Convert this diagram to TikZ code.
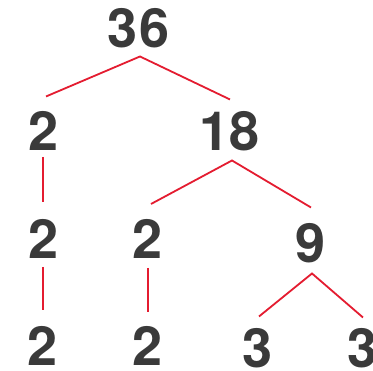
\documentclass[tikz,border=0pt]{standalone}
\usepackage{fontspec}
\setmainfont{TeX Gyre Heros}
\usetikzlibrary{calc}
\definecolor{numgray}{RGB}{58,58,58}
\definecolor{linered}{RGB}{228,28,48}
\begin{document}
\begin{tikzpicture}[x=1pt,y=-1pt,
  num/.style={anchor=base,inner sep=0pt,outer sep=0pt,text=numgray,
    font=\fontsize{54}{60}\selectfont\bfseries},
  edge/.style={draw=linered,line width=1.8pt}]
\useasboundingbox[fill=white] (0,0) rectangle (373,371);
\node[num] (n36) at (138.5,48) {3\kern2pt 6};
\node[num] (a2) at (44,151) {2};
\node[num] (n18) at (230,151) {18};
\node[num] (b2) at (44,259) {2};
\node[num] (m2) at (148,259) {2};
\node[num] (n9) at (311,263) {9};
\node[num] (c2) at (43,366) {2};
\node[num] (d2) at (148,366) {2};
\node[num] (e3) at (258,368) {3};
\node[num] (f3) at (363,368) {3};
\draw[edge] ($(n36.south)+(-92.5,48)$) -- ($(n36.south)+(1.5,8)$) -- ($(n18.south)+(0,-52)$);
\draw[edge] ($(a2.south)+(-1,6)$) -- ($(b2.south)+(-1,-57)$);
\draw[edge] ($(m2.south)+(3,-55)$) -- ($(n18.south)+(2,9)$) -- ($(n9.south)+(0,-56)$);
\draw[edge] ($(b2.south)+(-1,8)$) -- ($(c2.south)+(0,-56)$);
\draw[edge] ($(m2.south)+(0,9)$) -- ($(d2.south)+(0,-54)$);
\draw[edge] ($(e3.south)+(1,-52)$) -- ($(n9.south)+(1,10)$) -- ($(f3.south)+(0,-51)$);
\end{tikzpicture}
\end{document}
